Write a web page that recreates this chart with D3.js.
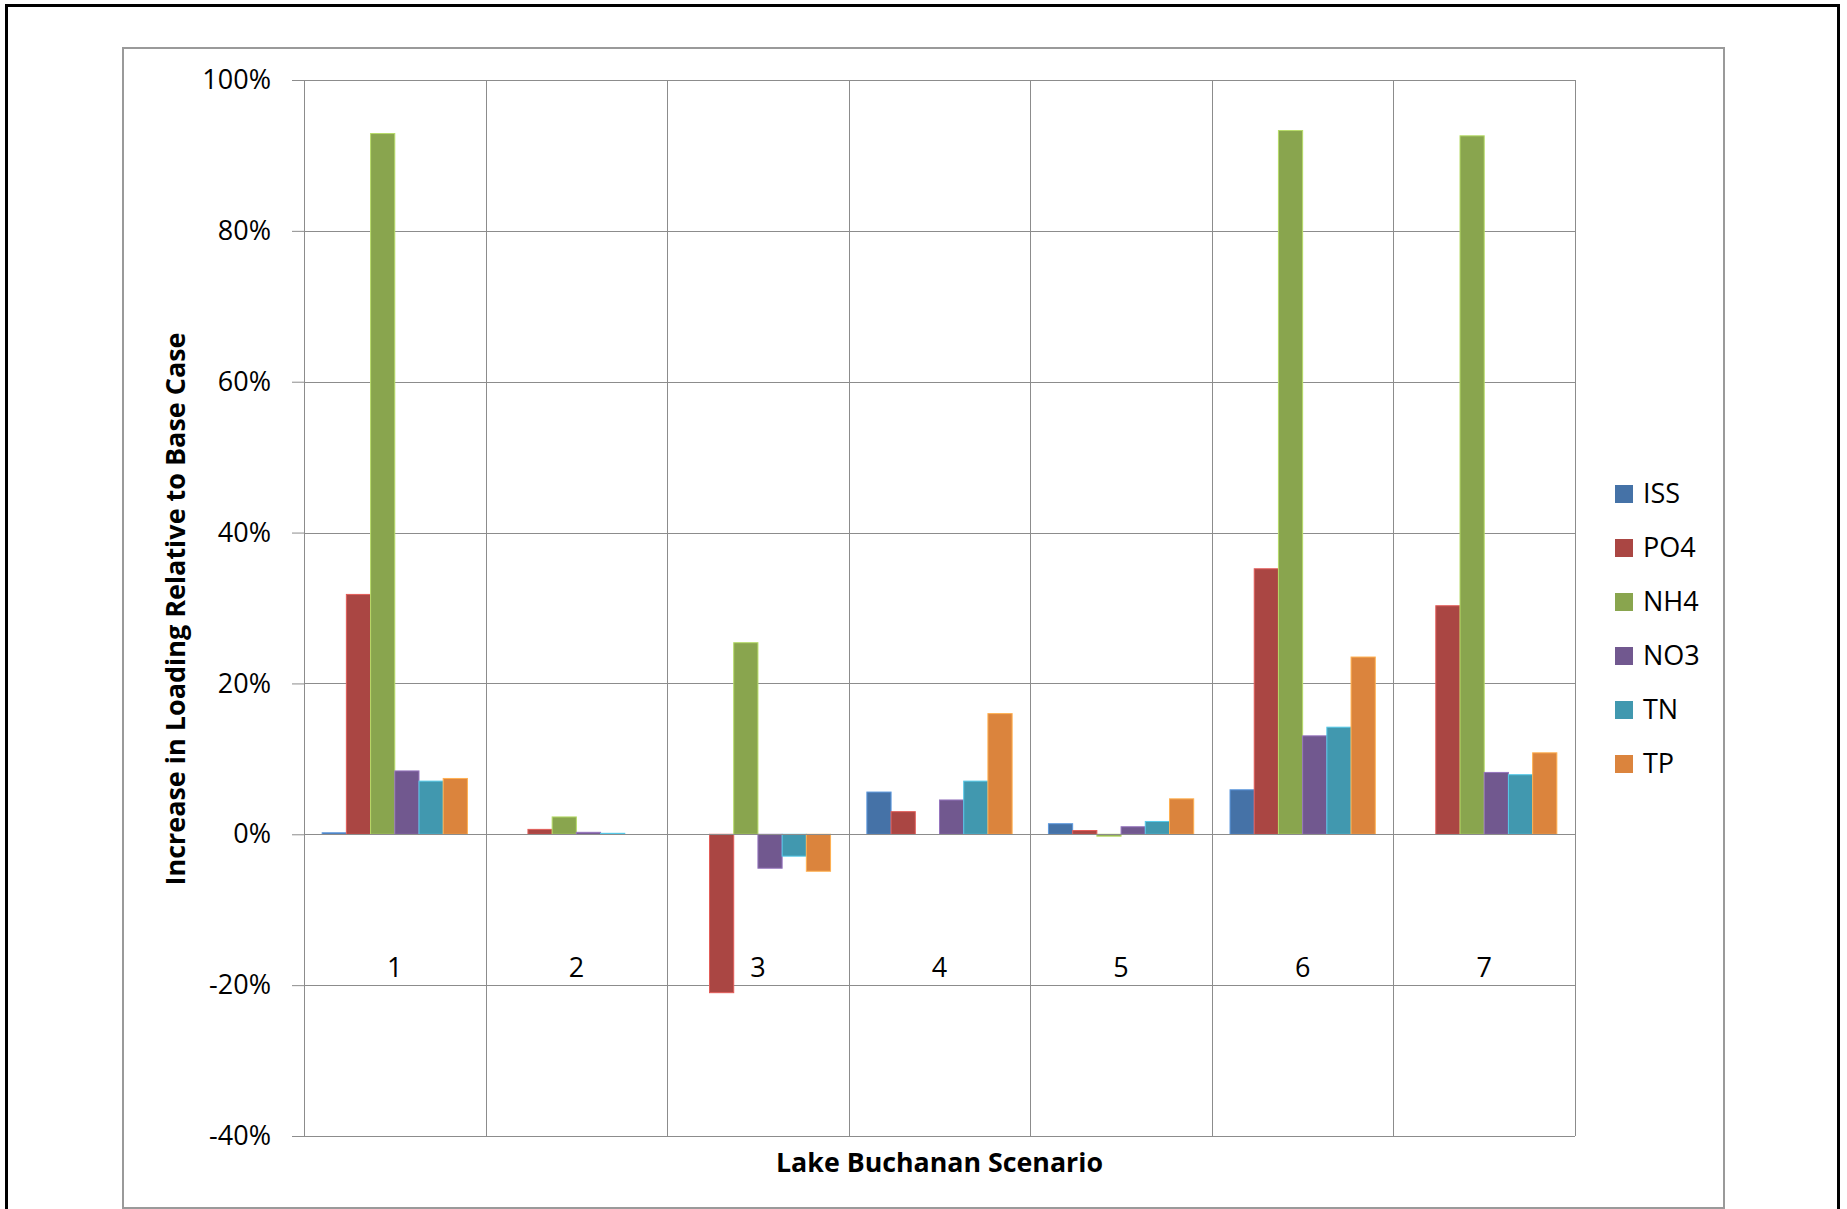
<!DOCTYPE html>
<html>
<head>
<meta charset="utf-8">
<script src="https://cdn.jsdelivr.net/npm/d3@7"></script>
<style>
  html, body { margin: 0; padding: 0; background: #fff; }
  svg { display: block; }
  text { font-family: "Open Sans", "Noto Sans", sans-serif; fill: #000; }
</style>
</head>
<body>
<script>
// ---- Data ----
const scenarios = ["1", "2", "3", "4", "5", "6", "7"];
const seriesNames = ["ISS", "PO4", "NH4", "NO3", "TN", "TP"];
const seriesColors = ["#4572A7", "#AA4643", "#89A54E", "#71588F", "#4198AF", "#DB843D"];
// values in percent, one array per series, indexed by scenario
const ISS = [0.2, 0.0, 0.0, 5.6, 1.4, 5.9, 0.0];
const PO4 = [31.8, 0.65, -21.0, 3.0, 0.5, 35.2, 30.3];
const NH4 = [92.9, 2.3, 25.4, 0.0, -0.25, 93.3, 92.6];
const NO3 = [8.4, 0.26, -4.5, 4.55, 1.0, 13.05, 8.2];
const TN = [7.05, 0.13, -2.9, 7.05, 1.7, 14.2, 7.9];
const TP = [7.4, 0.0, -4.9, 16.0, 4.7, 23.5, 10.8];
const seriesValues = [ISS, PO4, NH4, NO3, TN, TP];
const yTicks = [-40, -20, 0, 20, 40, 60, 80, 100];
const yTitle = "Increase in Loading Relative to Base Case";
const xTitle = "Lake Buchanan Scenario";

// ---- Layout ----
const W = 1847, H = 1209;
const plot = { left: 304, right: 1575, top: 80, bottom: 1136 };

const svg = d3.select("body").append("svg")
  .attr("width", W).attr("height", H);

// outer black frame
svg.append("rect")
  .attr("x", 6.5).attr("y", 5.5)
  .attr("width", 1832).attr("height", 1300)
  .attr("fill", "none").attr("stroke", "#000").attr("stroke-width", 3);

// chart area frame
svg.append("rect")
  .attr("x", 123).attr("y", 48)
  .attr("width", 1601).attr("height", 1160)
  .attr("fill", "#fff").attr("stroke", "#9a9a9a").attr("stroke-width", 2);

// ---- Scales ----
const x0 = d3.scaleBand().domain(scenarios).range([plot.left, plot.right]).padding(0);
const bw = x0.bandwidth();
const barW = bw / 7.5;
const x1 = d3.scaleBand().domain(seriesNames)
  .range([0.75 * barW, 0.75 * barW + 6 * barW]).padding(0);
const y = d3.scaleLinear().domain([-40, 100]).range([plot.bottom, plot.top]);

const gridColor = "#8c8c8c";

// horizontal gridlines + tick marks
const yAxis = d3.axisLeft(y).tickValues(yTicks)
  .tickSize(12).tickFormat(d => d + "%").tickPadding(21);
const gy = svg.append("g").attr("transform", `translate(${plot.left},0)`).call(yAxis);
gy.select(".domain").attr("stroke", gridColor);
gy.selectAll(".tick line").attr("stroke", gridColor);
gy.selectAll(".tick text")
  .style("font-size", "27px")
  .attr("fill", "#000");

svg.append("g").selectAll("line").data(yTicks).join("line")
  .attr("x1", plot.left).attr("x2", plot.right)
  .attr("y1", d => Math.round(y(d)) + 0.5).attr("y2", d => Math.round(y(d)) + 0.5)
  .attr("stroke", gridColor).attr("stroke-width", 1);

// vertical gridlines at category boundaries
const bounds = scenarios.map(s => x0(s)).concat([plot.right]);
svg.append("g").selectAll("line").data(bounds).join("line")
  .attr("x1", d => Math.round(d) + 0.5).attr("x2", d => Math.round(d) + 0.5)
  .attr("y1", plot.top).attr("y2", plot.bottom)
  .attr("stroke", gridColor).attr("stroke-width", 1);

// ---- Bars ----
const gBars = svg.append("g");
seriesNames.forEach((name, si) => {
  const col = seriesColors[si];
  gBars.append("g").selectAll("rect")
    .data(scenarios.map((s, i) => ({ s, v: seriesValues[si][i] })).filter(d => d.v !== 0))
    .join("rect")
    .attr("x", d => x0(d.s) + x1(name))
    .attr("width", barW)
    .attr("y", d => Math.min(y(d.v), y(0)))
    .attr("height", d => Math.max(1, Math.abs(y(d.v) - y(0))))
    .attr("fill", col)
    .attr("stroke", d3.color(col).brighter(0.8))
    .attr("stroke-width", 1);
});

// redraw the zero line on top
svg.append("line")
  .attr("x1", plot.left).attr("x2", plot.right)
  .attr("y1", Math.round(y(0)) + 0.5).attr("y2", Math.round(y(0)) + 0.5)
  .attr("stroke", gridColor).attr("stroke-width", 1);

// ---- Category labels ----
svg.append("g").selectAll("text").data(scenarios).join("text")
  .attr("x", d => x0(d) + bw / 2)
  .attr("y", 977)
  .attr("text-anchor", "middle")
  .style("font-size", "27px")
  .text(d => d);

// ---- Axis titles ----
svg.append("text")
  .attr("x", (plot.left + plot.right) / 2)
  .attr("y", 1172)
  .attr("text-anchor", "middle")
  .attr("textLength", 327).attr("lengthAdjust", "spacingAndGlyphs")
  .style("font-size", "27px").style("font-weight", "bold")
  .text(xTitle);

svg.append("text")
  .attr("transform", `translate(185,${(plot.top + plot.bottom) / 2 + 1}) rotate(-90)`)
  .attr("text-anchor", "middle")
  .attr("textLength", 553).attr("lengthAdjust", "spacingAndGlyphs")
  .style("font-size", "27px").style("font-weight", "bold")
  .text(yTitle);

// ---- Legend ----
const legend = svg.append("g");
const lg = legend.selectAll("g").data(seriesNames).join("g")
  .attr("transform", (d, i) => `translate(1615,${494 + i * 54})`);
lg.append("rect")
  .attr("x", 0).attr("y", -9).attr("width", 18).attr("height", 18)
  .attr("fill", (d, i) => seriesColors[i]);
lg.append("text")
  .attr("x", 28).attr("y", 0).attr("dy", "0.35em")
  .style("font-size", "27px")
  .text(d => d);
</script>
</body>
</html>
